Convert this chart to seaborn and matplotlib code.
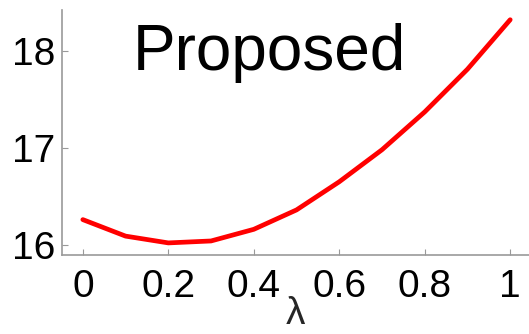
import matplotlib
matplotlib.use("Agg")
import matplotlib.pyplot as plt
import seaborn as sns
import pandas as pd

# objective value as a function of the weighting parameter lambda
lam = [0.0, 0.1, 0.2, 0.3, 0.4, 0.5, 0.6, 0.7, 0.8, 0.9, 1.0]
score = [16.26, 16.09, 16.02, 16.04, 16.16, 16.36, 16.65, 16.98, 17.37, 17.81, 18.32]
xticks = [0, 0.2, 0.4, 0.6, 0.8, 1]
xtick_labels = ["0", "0.2", "0.4", "0.6", "0.8", "1"]
yticks = [16, 17, 18]
ytick_labels = ["16", "17", "18"]

sns.set_style("white")
plt.rcParams["font.family"] = ["Liberation Sans", "DejaVu Sans"]

df = pd.DataFrame({"lambda": lam, "score": score})

fig = plt.figure(figsize=(5.29, 3.34), dpi=100)
ax = fig.add_axes([0.117, 0.237, 0.883, 0.733])
sns.lineplot(data=df, x="lambda", y="score", color="red", linewidth=3.4, ax=ax)

ax.set_xlim(-0.049, 1.044)
ax.set_ylim(15.897, 18.42)
ax.set_xticks(xticks)
ax.set_xticklabels(xtick_labels)
ax.set_yticks(yticks)
ax.set_yticklabels(ytick_labels)

for side in ("top", "right"):
    ax.spines[side].set_visible(False)
for side in ("left", "bottom"):
    ax.spines[side].set_color("#999999")
    ax.spines[side].set_linewidth(1.2)

ax.tick_params(axis="both", direction="in", length=4, width=0.8, color="#999999",
               labelsize=28, labelcolor="black", bottom=True, left=True)
ax.tick_params(axis="x", pad=10)
ax.tick_params(axis="y", pad=5)

ax.set_xlabel("λ", fontsize=28, labelpad=-6)
ax.set_ylabel("")
ax.text(0.445, 0.755, "Proposed", transform=ax.transAxes, fontsize=46,
        ha="center", va="baseline", color="black")

fig.savefig("out.png", dpi=100)
